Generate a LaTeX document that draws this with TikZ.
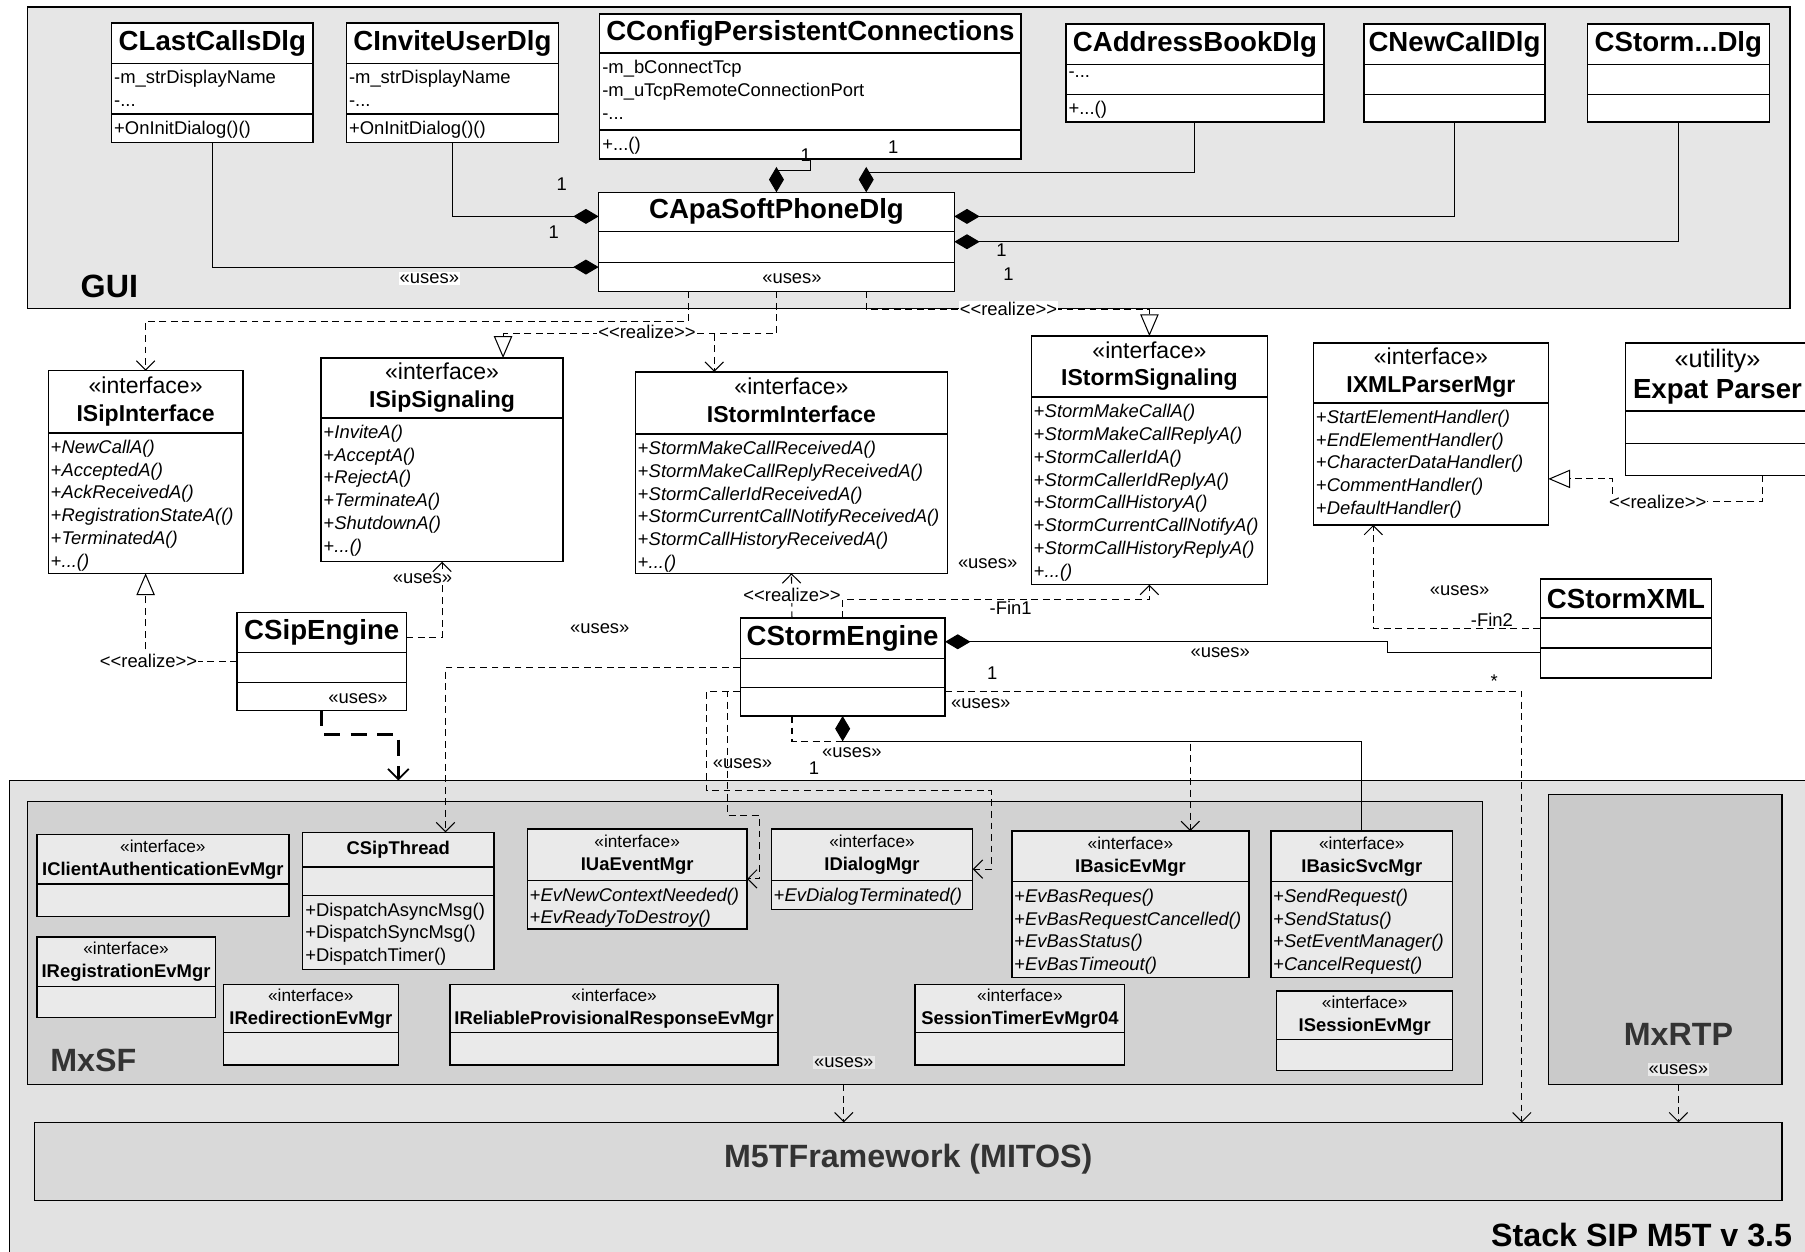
\documentclass[tikz,border=0pt]{standalone}
\usepackage{fontspec}
\setmainfont{Liberation Sans}
\usetikzlibrary{arrows.meta,calc}

\definecolor{guigray}{RGB}{230,230,230}
\definecolor{stackgray}{RGB}{226,226,226}
\definecolor{mxsfgray}{RGB}{210,210,210}
\definecolor{rtpgray}{RGB}{202,202,202}
\definecolor{mtgray}{RGB}{217,217,217}
\definecolor{clsgray}{RGB}{234,234,234}

\newcommand{\tsz}[2]{\fontsize{#1}{#2}\selectfont}
\newcommand{\ttl}{\tsz{24}{28}\bfseries}
\newcommand{\op}[1]{+\textit{#1}}
% stereotype headers: big ones and the small ones in MxSF
\newcommand{\stbig}[2]{\tsz{20}{24}\begin{tabular}{@{}c@{}}«#1»\\\bfseries #2\end{tabular}}
\newcommand{\stsmall}[2]{\tsz{15}{20}\begin{tabular}{@{}c@{}}«#1»\\\tsz{16}{20}\bfseries #2\end{tabular}}

% class box: name, top left, width, header h, attr h, ops h, title, attrs, ops
\newcommand{\umlclass}[9]{%
  \pgfmathsetmacro{\clsh}{#4+#5+#6}
  \node[classbox, minimum width=#3pt, minimum height=\clsh pt, anchor=north west] (#1) at (#2) {};
  \node[align=center, inner sep=0pt] (#1-t) at ($(#1.north)+(0,#4/2)$) {#7};
  \draw[line width=1.2pt] ($(#1.north west)+(0,#4)$) -- ($(#1.north east)+(0,#4)$);
  \ifdim#5pt>0pt\ifdim#6pt>0pt
    \draw[line width=1.2pt] ($(#1.north west)+(0,#4+#5)$) -- ($(#1.north east)+(0,#4+#5)$);
  \fi\fi
  \node[attrtext] (#1-a) at ($(#1.north west)+(0,#4)$) {#8};
  \node[attrtext] (#1-o) at ($(#1.north west)+(0,#4+#5)$) {#9};
}

\begin{document}
\begin{tikzpicture}[x=1pt,y=-1pt,
  classbox/.style={draw, fill=white, line width=1.2pt, inner sep=0pt, outer sep=0pt},
  attrtext/.style={anchor=north west, align=left, inner xsep=2pt, inner ysep=6pt, font=\tsz{16}{19.8}},
  pkg/.style={draw, line width=1.2pt, inner sep=0pt, outer sep=0pt, anchor=north west},
  pkgtitle/.style={font=\tsz{28}{32}\bfseries, inner sep=0pt},
  lbl/.style={font=\tsz{16}{19}, inner sep=1pt, fill=white},
  num/.style={font=\tsz{16}{19}, inner sep=0pt},
  dep/.style={line width=0.9pt, dash pattern=on 6pt off 4pt, -{Straight Barb[length=8pt,width=16pt]}},
  real/.style={line width=0.9pt, dash pattern=on 6pt off 4pt, -{Triangle[fill=white,length=19pt,width=16pt]}},
  compo/.style={line width=0.9pt, {Diamond[fill=black,length=22pt,width=13pt]}-}
]
\useasboundingbox (0,0) rectangle (1568,1087);

% packages
\node[pkg, fill=guigray, minimum width=1531pt, minimum height=262pt] (gui) at (24,6) {};
\node[pkg, fill=stackgray, minimum width=1600pt, minimum height=430pt] (stk) at (8,678) {};
\node[pkg, fill=mxsfgray, minimum width=1264pt, minimum height=246pt] (mxsf) at (24,696) {};
\node[pkg, fill=rtpgray, minimum width=203pt, minimum height=252pt] (mxr) at (1345,690) {};
\node[pkg, fill=mtgray, minimum width=1518pt, minimum height=68pt] (m5t) at (30,975) {};
\node[pkgtitle] (gui-l) at (95,249) {GUI};
\node[pkgtitle, text=black!80] (mxsf-l) at (81,921) {MxSF};
\node[pkgtitle, text=black!80] (mxr-l) at (1458,899) {MxRTP};
\node[pkgtitle, text=black!80] (m5t-l) at (789,1007) {M5TFramework (MITOS)};
\node[pkgtitle, anchor=east] (stk-l) at (1557,1073) {Stack SIP M5T v 3.5};

% GUI classes
\umlclass{cla}{97,20}{175}{35}{44}{25}{\ttl CLastCallsDlg}{-m\_strDisplayName\\-...}{+OnInitDialog()()}
\umlclass{cin}{301,20}{184}{35}{44}{25}{\ttl CInviteUserDlg}{-m\_strDisplayName\\-...}{+OnInitDialog()()}
\umlclass{cfg}{521,12}{366}{34}{67}{25}{\ttl CConfigPersistentConnections}{-m\_bConnectTcp\\-m\_uTcpRemoteConnectionPort\\-...}{+...()}
\umlclass{cab}{926,21}{224}{35}{26}{24}{\ttl CAddressBookDlg}{-...}{+...()}
\umlclass{cnc}{1185,21}{157}{35}{26}{24}{\ttl CNewCallDlg}{}{}
\umlclass{csd}{1379,21}{158}{35}{26}{24}{\ttl CStorm...Dlg}{}{}
\umlclass{apa}{520,167}{309}{34}{27}{25}{\ttl CApaSoftPhoneDlg}{}{}

% interfaces and engines
\umlclass{isi}{42,322}{169}{54}{0}{122}{\stbig{interface}{ISipInterface}}{}{\op{NewCallA()}\\\op{AcceptedA()}\\\op{AckReceivedA()}\\\op{RegistrationStateA(()}\\\op{TerminatedA()}\\\op{...()}}
\umlclass{iss}{279,311}{210}{52}{0}{125}{\stbig{interface}{ISipSignaling}}{}{\op{InviteA()}\\\op{AcceptA()}\\\op{RejectA()}\\\op{TerminateA()}\\\op{ShutdownA()}\\\op{...()}}
\umlclass{ist}{552,323}{271}{54}{0}{121}{\stbig{interface}{IStormInterface}}{}{\op{StormMakeCallReceivedA()}\\\op{StormMakeCallReplyReceivedA()}\\\op{StormCallerIdReceivedA()}\\\op{StormCurrentCallNotifyReceivedA()}\\\op{StormCallHistoryReceivedA()}\\\op{...()}}
\umlclass{isg}{896,292}{205}{53}{0}{163}{\stbig{interface}{IStormSignaling}}{}{\op{StormMakeCallA()}\\\op{StormMakeCallReplyA()}\\\op{StormCallerIdA()}\\\op{StormCallerIdReplyA()}\\\op{StormCallHistoryA()}\\\op{StormCurrentCallNotifyA()}\\\op{StormCallHistoryReplyA()}\\\op{...()}}
\umlclass{ixp}{1141,298}{204}{52}{0}{106}{\stbig{interface}{IXMLParserMgr}}{}{\op{StartElementHandler()}\\\op{EndElementHandler()}\\\op{CharacterDataHandler()}\\\op{CommentHandler()}\\\op{DefaultHandler()}}
\umlclass{exp}{1412,298}{160}{59}{28}{28}{\tsz{22}{27}\begin{tabular}{@{}c@{}}«utility»\\\tsz{24}{27}\bfseries Expat Parser\end{tabular}}{}{}
\umlclass{cxm}{1338,503}{149}{34}{26}{26}{\ttl CStormXML}{}{}
\umlclass{cse}{643,537}{178}{35}{25}{25}{\ttl CStormEngine}{}{}
\umlclass{csi}{206,532}{147}{35}{26}{24}{\ttl CSipEngine}{}{}

% MxSF content
\begin{scope}[classbox/.append style={fill=clsgray}]
\umlclass{ica}{32,725}{219}{43}{28}{0}{\stsmall{interface}{IClientAuthenticationEvMgr}}{}{}
\umlclass{cst}{263,723}{166}{30}{25}{64}{\tsz{16}{20}\bfseries CSipThread}{}{+DispatchAsyncMsg()\\+DispatchSyncMsg()\\+DispatchTimer()}
\umlclass{iua}{458,720}{191}{45}{0}{42}{\stsmall{interface}{IUaEventMgr}}{}{\op{EvNewContextNeeded()}\\\op{EvReadyToDestroy()}}
\umlclass{idm}{670,720}{175}{45}{0}{25}{\stsmall{interface}{IDialogMgr}}{}{\op{EvDialogTerminated()}}
\umlclass{ibe}{879,722}{206}{44}{0}{83}{\stsmall{interface}{IBasicEvMgr}}{}{\op{EvBasReques()}\\\op{EvBasRequestCancelled()}\\\op{EvBasStatus()}\\\op{EvBasTimeout()}}
\umlclass{ibs}{1104,722}{158}{44}{0}{83}{\stsmall{interface}{IBasicSvcMgr}}{}{\op{SendRequest()}\\\op{SendStatus()}\\\op{SetEventManager()}\\\op{CancelRequest()}}
\umlclass{irg}{32,814}{155}{43}{27}{0}{\stsmall{interface}{IRegistrationEvMgr}}{}{}
\umlclass{ird}{194,855}{152}{42}{28}{0}{\stsmall{interface}{IRedirectionEvMgr}}{}{}
\umlclass{irp}{391,855}{285}{42}{28}{0}{\stsmall{interface}{IReliableProvisionalResponseEvMgr}}{}{}
\umlclass{stm}{795,855}{182}{42}{28}{0}{\stsmall{interface}{SessionTimerEvMgr04}}{}{}
\umlclass{ise}{1109,861}{153}{42}{27}{0}{\stsmall{interface}{ISessionEvMgr}}{}{}
\end{scope}

% compositions in GUI
\draw[compo] ([yshift=-22pt]apa.west) -| (cla.south);
\draw[compo] ([yshift=22pt]apa.west) -| (cin.south);
\draw[compo] (apa.north) |- ([yshift=-10pt]cfg.south) -- (cfg.south);
\draw[compo] ([xshift=78pt]apa.north) |- ([yshift=-44pt]cab.south) -- (cab.south);
\draw[compo] ([yshift=22pt]apa.east) -| (cnc.south);
\draw[compo] (apa.east) -| (csd.south);
\node[lbl] (u-cla) at (373,242) {«uses»};
\node[num] (n-cla) at (481,202) {1};
\node[num] (n-cin) at (488,160) {1};
\node[num] (n-cfg) at (700,135) {1};
\node[num] (n-cab) at (776,128) {1};
\node[num] (n-cnc) at (870,217) {1};
\node[num] (n-csd) at (876,238) {1};
\node[num] (u-apa) at (688,242) {«uses»};

% GUI to interfaces
\draw[dep] ([xshift=-76pt]apa.south) |- ([yshift=43pt]isi.north) -- (isi.north);
\draw[real] (apa.south) |- ([xshift=53pt,yshift=21pt]iss.north) -- ([xshift=53pt]iss.north);
\draw[dep] ([xshift=-67pt,yshift=33pt]ist.north) -- ([xshift=-67pt]ist.north);
\draw[real] ([xshift=78pt]apa.south) |- ([yshift=23pt]isg.north) -- (isg.north);
\node[lbl] (r-iss) at (562,288) {<{}<realize>{}>};
\node[lbl] (r-isg) at (876,268) {<{}<realize>{}>};

% engines
\draw[real] (csi.west) -| (isi.south);
\node[lbl] (r-isi) at (129,574) {<{}<realize>{}>};
\draw[dep] ([yshift=21pt]csi.east) -| (iss.south);
\node[lbl] (u-iss) at (367,503) {«uses»};
\node[num] (u-csi) at (311,607) {«uses»};
\draw[line width=2.5pt, dash pattern=on 14pt off 9pt, -{Straight Barb[length=9pt,width=18pt,line width=1.5pt]}]
  (csi.south) |- ($(stk.north west)+(338,-40)$) -- ($(stk.north west)+(338,0)$);
\draw[dep] (cse.west) -| ([xshift=41pt]cst.north);
\node[num] (u-cst) at (521,546) {«uses»};
\draw[dep] (cse.north) |- ([yshift=-13pt]isg.south) -- (isg.south);
\node[num] (f-1) at (878,528) {-Fin1};
\node[num] (u-isg) at (858,490) {«uses»};
\draw[dep] ([xshift=-44pt]cse.north) -- (ist.south);
\node[lbl] (r-ist) at (688,517) {<{}<realize>{}>};
\draw[compo] ([yshift=22pt]cse.east) -| ($(cxm.west)+(-133,21)$) -- ([yshift=-21pt]cxm.west);
\node[num] (u-cxm) at (1060,567) {«uses»};
\node[num] (n-cxm) at (862,585) {1};
\draw[dep] (cxm.west) -| ([xshift=-50pt]ixp.south);
\node[num] (u-ixp) at (1268,513) {«uses»};
\node[num] (f-2) at (1296,538) {-Fin2};
\draw[real] ([xshift=39pt]exp.south) |- ([xshift=56pt,yshift=-59pt]ixp.east) |- ([yshift=-39pt]ixp.east);
\node[lbl] (r-ixp) at (1440,436) {<{}<realize>{}>};

% engine to stack
\draw[dep] ([yshift=-21pt]cse.west) -| ($(idm.east)+(-231,-68)$) -| ($(idm.east)+(16,0)$) -- (idm.east);
\draw[dep] ([yshift=-21pt]cse.west) -| ($(iua.east)+(-17,-55)$) -| ($(iua.east)+(11,0)$) -- (iua.east);
\node[num] (u-iua) at (645,663) {«uses»};
\node[num] (n-iua) at (707,667) {1};
\node[num] (u-ibs) at (740,654) {«uses»};
\draw[dep] ([xshift=-44pt]cse.south) |- ([xshift=52pt,yshift=78pt]ibe.north) -- ([xshift=52pt]ibe.north);
\draw[compo] (cse.south) |- ($(ibs.north)+(0,-78)$) -- (ibs.north);
\draw[dep] ([yshift=-21pt]cse.east) -| ([xshift=533pt]m5t.north);
\node[num] (n-m5t) at (1298,592) {*};
\node[num] (u-m5t) at (852,611) {«uses»};
\draw[dep] ([xshift=77pt]mxsf.south) -- ([xshift=-56pt]m5t.north);
\node[lbl, fill=clsgray] (u-mxsf) at (733,923) {«uses»};
\draw[dep] ([xshift=11.5pt]mxr.south) -- ([xshift=669pt]m5t.north);
\node[lbl, fill=clsgray] (u-mxr) at (1458,929) {«uses»};
\end{tikzpicture}
\end{document}
